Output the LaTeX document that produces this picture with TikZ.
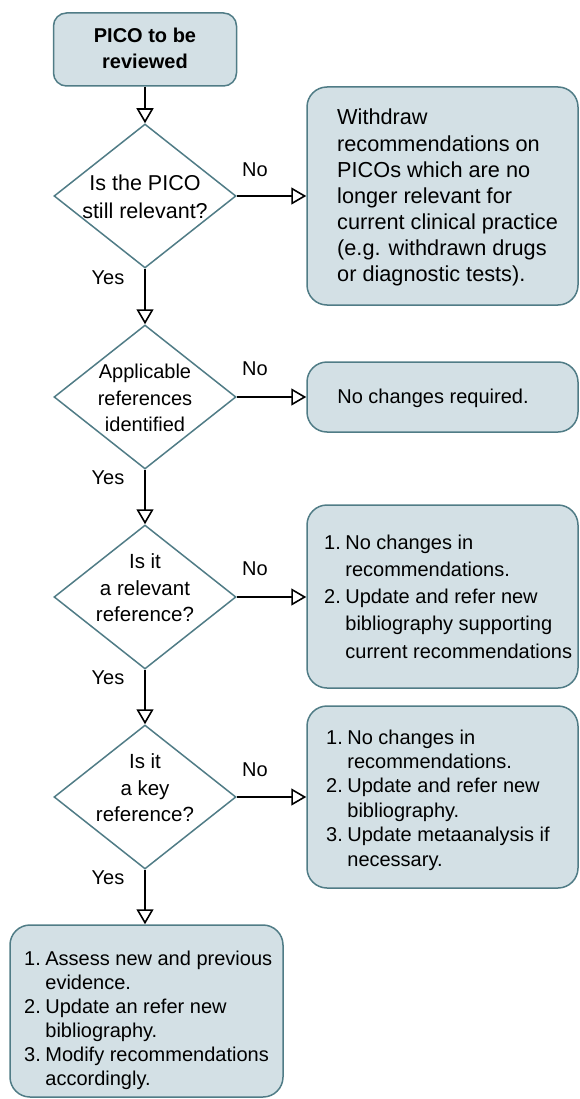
\documentclass[tikz,border=0pt]{standalone}
\usepackage{fontspec}
\setmainfont{Liberation Sans}
\usetikzlibrary{shapes.geometric,arrows.meta}
\definecolor{boxfill}{RGB}{211,224,229}
\definecolor{boxline}{RGB}{80,124,134}
\begin{document}
\begin{tikzpicture}[x=1pt,y=-1pt,
  box/.style={draw=boxline, fill=boxfill, line width=1.5pt, rounded corners=20pt, inner sep=0pt},
  dia/.style={draw=boxline, fill=white, line width=1.5pt, diamond, inner sep=0pt, minimum width=182pt, minimum height=144pt},
  txt/.style={inner sep=0pt},
  lbl/.style={font=\fontsize{20}{24}\selectfont, inner sep=0pt},
  arr/.style={line width=1.6pt, -{Triangle[open, fill=white, length=15pt, width=17pt]}}
]
\useasboundingbox (0,0) rectangle (579,1099);

% start
\node[box, rounded corners=13pt, minimum width=183pt, minimum height=73pt] (s) at (145,49.5) {};
\node[txt, font=\bfseries\fontsize{20}{26}\selectfont] (st) at (145,50) {\begin{tabular}{@{}c@{}}PICO to be\\reviewed\end{tabular}};

% diamonds
\node[dia] (d1) at (145,196) {};
\node[txt, font=\fontsize{21.5}{27.5}\selectfont] (d1t) at (145,199) {\begin{tabular}{@{}c@{}}Is the PICO\\still relevant?\end{tabular}};
\node[dia] (d2) at (145,397) {};
\node[txt, font=\fontsize{20}{26.5}\selectfont] (d2t) at (145,400) {\begin{tabular}{@{}c@{}}Applicable\\references\\identified\end{tabular}};
\node[dia] (d3) at (145,597) {};
\node[txt, font=\fontsize{20.5}{26.5}\selectfont] (d3t) at (145,590) {\begin{tabular}{@{}c@{}}Is it\\a relevant\\reference?\end{tabular}};
\node[dia] (d4) at (145,797) {};
\node[txt, font=\fontsize{20.5}{26.5}\selectfont] (d4t) at (145,790) {\begin{tabular}{@{}c@{}}Is it\\a key\\reference?\end{tabular}};

% boxes
\node[box, minimum width=271pt, minimum height=218pt] (b1) at (442.5,196) {};
\node[txt, anchor=base west, font=\fontsize{21.7}{26.1}\selectfont] (b1t) at (337,125) {\begin{tabular}[t]{@{}l@{}}Withdraw\\recommendations on\\PICOs which are no\\longer relevant for\\current clinical practice\\(e.g. withdrawn drugs\\or diagnostic tests).\end{tabular}};

\node[box, minimum width=271pt, minimum height=70pt] (b2) at (442.5,397) {};
\node[txt, anchor=base, font=\fontsize{20}{24}\selectfont] (b2t) at (433,403) {No changes required.};

\node[box, minimum width=271pt, minimum height=183pt] (b3) at (442.5,596.5) {};
\node[txt, anchor=base west, font=\fontsize{20}{27.3}\selectfont] (b3t) at (324,549) {\begin{tabular}[t]{@{}r@{\hspace{4.5pt}}l@{}}1.&No changes in\\&recommendations.\\2.&Update and refer new\\&bibliography supporting\\&current recommendations\end{tabular}};

\node[box, minimum width=271pt, minimum height=182pt] (b4) at (442.5,797) {};
\node[txt, anchor=base west, font=\fontsize{20}{24.4}\selectfont] (b4t) at (326,744) {\begin{tabular}[t]{@{}r@{\hspace{4.5pt}}l@{}}1.&No changes in\\&recommendations.\\2.&Update and refer new\\&bibliography.\\3.&Update metaanalysis if\\&necessary.\end{tabular}};

\node[box, minimum width=273pt, minimum height=172pt] (b5) at (146.5,1011) {};
\node[txt, anchor=base west, font=\fontsize{20}{24}\selectfont] (b5t) at (24,965) {\begin{tabular}[t]{@{}r@{\hspace{4.5pt}}l@{}}1.&Assess new and previous\\&evidence.\\2.&Update an refer new\\&bibliography.\\3.&Modify recommendations\\&accordingly.\end{tabular}};

% labels
\node[lbl] (n1) at (255,170) {No};
\node[lbl] (n2) at (255,369) {No};
\node[lbl] (n3) at (255,569) {No};
\node[lbl] (n4) at (255,770) {No};
\node[lbl] (y1) at (108,278) {Yes};
\node[lbl] (y2) at (108,478) {Yes};
\node[lbl] (y3) at (108,678) {Yes};
\node[lbl] (y4) at (108,878) {Yes};

% connectors
\draw[arr] (s.south) -- (d1.north);
\draw[arr] (d1.south) -- (d2.north);
\draw[arr] (d2.south) -- (d3.north);
\draw[arr] (d3.south) -- (d4.north);
\draw[arr] (d4.south) -- (d4.south |- b5.north);
\draw[arr] (d1.east) -- (d1.east -| b1.west);
\draw[arr] (d2.east) -- (d2.east -| b2.west);
\draw[arr] (d3.east) -- (d3.east -| b3.west);
\draw[arr] (d4.east) -- (d4.east -| b4.west);
\end{tikzpicture}
\end{document}
